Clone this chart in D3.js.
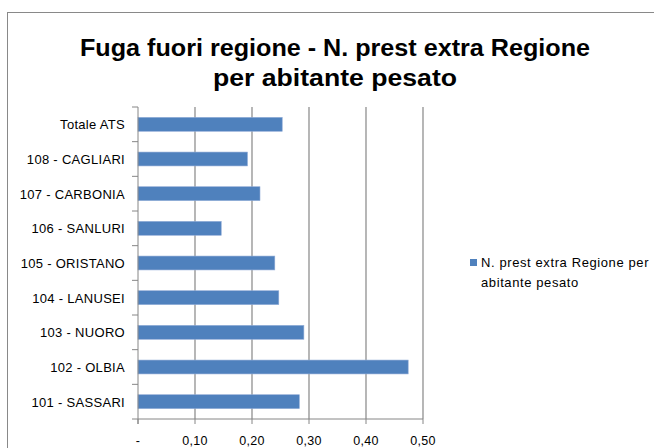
<!DOCTYPE html>
<html>
<head>
<meta charset="utf-8">
<script src="https://cdn.jsdelivr.net/npm/d3@7"></script>
<style>
  body { margin: 0; background: #fff; }
  svg { display: block; font-family: "Liberation Sans", Arial, sans-serif; }
</style>
</head>
<body>
<svg id="chart" width="654" height="448"></svg>
<script>
// categories listed top to bottom, as in the picture
const categories = ["Totale ATS", "108 - CAGLIARI", "107 - CARBONIA", "106 - SANLURI", "105 - ORISTANO",
                    "104 - LANUSEI", "103 - NUORO", "102 - OLBIA", "101 - SASSARI"];
const values = [0.253, 0.192, 0.214, 0.146, 0.240, 0.247, 0.291, 0.474, 0.283];
const xTicks = [0, 0.1, 0.2, 0.3, 0.4, 0.5];
const seriesName = ["N. prest extra Regione per", "abitante pesato"];
const titleLines = ["Fuga fuori regione - N. prest extra Regione", "per abitante pesato"];

const svg = d3.select("#chart");
const margin = {top: 107, left: 138, right: 231, bottom: 29};
const width = +svg.attr("width"), height = +svg.attr("height");

// outer chart frame
svg.append("rect")
  .attr("x", 7.5).attr("y", 12.5)
  .attr("width", 700).attr("height", 500)
  .attr("fill", "none").attr("stroke", "#898989");

// title
svg.append("g").selectAll("text")
  .data(titleLines)
  .join("text")
  .attr("x", 335)
  .attr("y", (d, i) => 56 + i * 30)
  .attr("text-anchor", "middle")
  .attr("font-weight", "bold")
  .attr("font-size", 23)
  .attr("textLength", (d, i) => i === 0 ? 510 : 244)
  .attr("lengthAdjust", "spacingAndGlyphs")
  .text(d => d);

const x = d3.scaleLinear().domain([0, 0.5]).range([margin.left, width - margin.right]);
const y = d3.scaleBand().domain(categories).range([margin.top, height - margin.bottom]).paddingInner(0.6).paddingOuter(0.3);
const yb = d3.scaleBand().domain(categories).range([margin.top, height - margin.bottom]);

// gridlines
svg.append("g").selectAll("line")
  .data(xTicks.slice(1))
  .join("line")
  .attr("x1", d => x(d)).attr("x2", d => x(d))
  .attr("y1", margin.top).attr("y2", height - margin.bottom)
  .attr("stroke", "#868686").attr("stroke-width", 1.2);

// bars
svg.append("g").selectAll("rect")
  .data(categories)
  .join("rect")
  .attr("x", x(0))
  .attr("y", d => y(d))
  .attr("width", (d, i) => x(values[i]) - x(0))
  .attr("height", y.bandwidth())
  .attr("fill", "#4F81BD")
  .attr("stroke", "#8eaad6").attr("stroke-width", 0.6);

// y axis
const yAxis = svg.append("g");
yAxis.append("line")
  .attr("x1", x(0)).attr("x2", x(0))
  .attr("y1", margin.top).attr("y2", height - margin.bottom + 5)
  .attr("stroke", "#868686");
yAxis.selectAll("line.tick")
  .data(categories.concat(["end"]))
  .join("line")
  .attr("class", "tick")
  .attr("x1", x(0) - 6).attr("x2", x(0))
  .attr("y1", d => d === "end" ? height - margin.bottom : yb(d))
  .attr("y2", d => d === "end" ? height - margin.bottom : yb(d))
  .attr("stroke", "#868686");
yAxis.selectAll("text")
  .data(categories)
  .join("text")
  .attr("x", 125)
  .attr("y", d => yb(d) + yb.bandwidth() / 2 + 5)
  .attr("text-anchor", "end")
  .attr("font-size", 13)
  .attr("letter-spacing", 0.3)
  .attr("fill", "#000")
  .text(d => d);

// x axis
const xAxis = svg.append("g");
xAxis.append("line")
  .attr("x1", x(0)).attr("x2", x(0.5))
  .attr("y1", height - margin.bottom).attr("y2", height - margin.bottom)
  .attr("stroke", "#868686");
xAxis.selectAll("line.tick")
  .data(xTicks)
  .join("line")
  .attr("class", "tick")
  .attr("x1", d => x(d)).attr("x2", d => x(d))
  .attr("y1", height - margin.bottom).attr("y2", height - margin.bottom + 5)
  .attr("stroke", "#868686");
xAxis.selectAll("text")
  .data(xTicks)
  .join("text")
  .attr("x", d => x(d))
  .attr("y", height - 3)
  .attr("text-anchor", "middle")
  .attr("font-size", 12.5)
  .attr("letter-spacing", 0.3)
  .text(d => d === 0 ? "-" : d3.format(".2f")(d).replace(".", ","));

// legend
const legend = svg.append("g");
legend.append("rect")
  .attr("x", 470).attr("y", 259)
  .attr("width", 7).attr("height", 7)
  .attr("fill", "#4F81BD");
legend.selectAll("text")
  .data(seriesName)
  .join("text")
  .attr("x", 481)
  .attr("y", (d, i) => 267 + i * 20)
  .attr("font-size", 13)
  .attr("letter-spacing", 0.6)
  .text(d => d);
</script>
</body>
</html>
